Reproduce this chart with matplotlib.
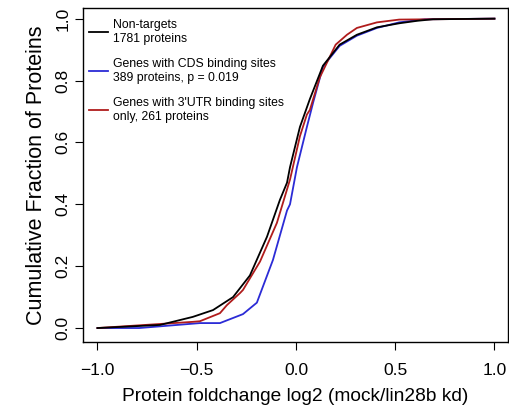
#!/usr/bin/env python3
"""
curvas acumuladas de foldchange de proteinas (estilo R)
"""

import numpy as np
import matplotlib
matplotlib.use("Agg")
import matplotlib.pyplot as plt

plt.rcParams['font.family'] = ['Liberation Sans', 'DejaVu Sans']

# puntos
x_non = [-1.0, -0.685, -0.52, -0.418, -0.317, -0.232, -0.146, -0.081, -0.045, -0.03,
         0.02, 0.07, 0.136, 0.22, 0.307, 0.408, 0.52, 0.61, 0.69, 1.0]
y_non = [0.0, 0.01, 0.036, 0.058, 0.10, 0.17, 0.295, 0.414, 0.47, 0.52,
         0.65, 0.74, 0.848, 0.916, 0.948, 0.972, 0.985, 0.993, 0.998, 1.0]

x_cds = [-1.0, -0.79, -0.484, -0.383, -0.267, -0.197, -0.116, -0.045, -0.03, 0.005,
         0.055, 0.087, 0.136, 0.22, 0.307, 0.408, 0.52, 0.65, 1.0]
y_cds = [0.0, 0.0, 0.016, 0.016, 0.045, 0.082, 0.22, 0.38, 0.40, 0.52,
         0.65, 0.73, 0.845, 0.912, 0.945, 0.97, 0.988, 0.998, 1.0]

x_utr = [-1.0, -0.52, -0.484, -0.383, -0.348, -0.282, -0.267, -0.181, -0.096, -0.03,
         0.02, 0.055, 0.07, 0.12, 0.2, 0.257, 0.307, 0.408, 0.52, 1.0]
y_utr = [0.0, 0.02, 0.022, 0.048, 0.074, 0.113, 0.123, 0.215, 0.34, 0.48,
         0.62, 0.69, 0.705, 0.81, 0.916, 0.948, 0.97, 0.988, 0.997, 1.0]

etiquetas = ['Non-targets\n1781 proteins',
             'Genes with CDS binding sites\n389 proteins, p = 0.019',
             "Genes with 3'UTR binding sites\nonly, 261 proteins"]

fig = plt.figure(figsize=(5.1, 4.12), dpi=100)
ax = fig.add_axes([0.1627, 0.170, 0.8333, 0.811])

ax.plot(x_non, y_non, color='black', lw=1.3, label=etiquetas[0], zorder=3)
ax.plot(x_cds, y_cds, color='#2b2bd6', lw=1.3, label=etiquetas[1])
ax.plot(x_utr, y_utr, color='#b01c1c', lw=1.3, label=etiquetas[2])

ax.set_xlim(-1.073, 1.068)
ax.set_ylim(-0.045, 1.035)
ax.set_xticks([-1.0, -0.5, 0.0, 0.5, 1.0])
ax.set_xticklabels(['\u22121.0', '\u22120.5', '0.0', '0.5', '1.0'])
ax.set_yticks([0.0, 0.2, 0.4, 0.6, 0.8, 1.0])
ax.set_yticklabels(['0.0', '0.2', '0.4', '0.6', '0.8', '1.0'], rotation=90, va='center')
ax.tick_params(direction='out', length=6, width=0.8, labelsize=12.5, pad=3)
ax.tick_params(axis='x', pad=9)
for s in ax.spines.values():
    s.set_linewidth(1.0)

ax.set_xlabel('Protein foldchange log2 (mock/lin28b kd)', fontsize=13.8, labelpad=7)
ax.set_ylabel('Cumulative Fraction of Proteins', fontsize=15.5, labelpad=6)

leg = ax.legend(loc='upper left', bbox_to_anchor=(-0.012, 1.0), frameon=False,
                fontsize=8.8, handlelength=1.6, handletextpad=0.4,
                labelspacing=1.1, borderaxespad=0.5)

fig.savefig('out.png', dpi=100)
